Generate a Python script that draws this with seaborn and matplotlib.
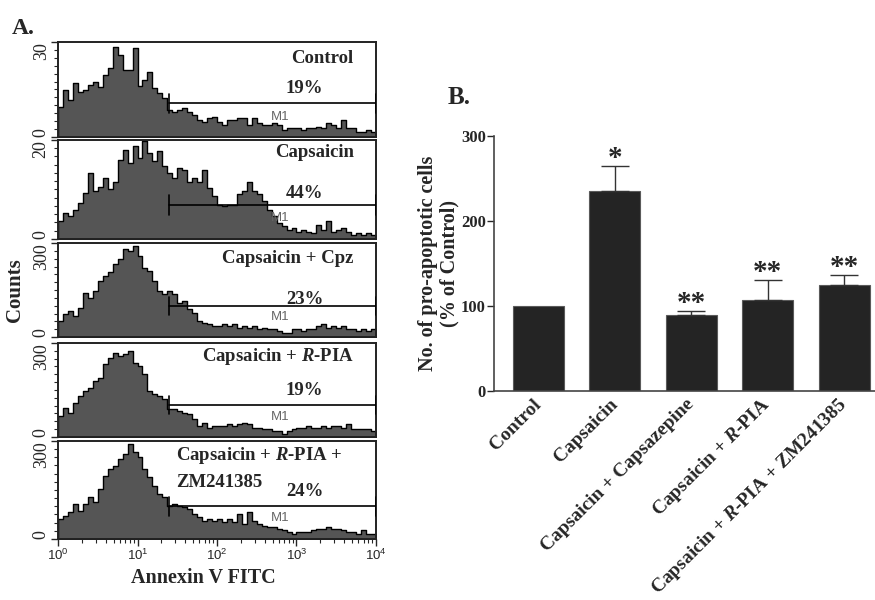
import numpy as np
import matplotlib
matplotlib.use('Agg')
from matplotlib import pyplot as plt, ticker
import seaborn as sns
import pandas as pd

# Panel A: annexin V FITC histograms, counts per 1/16-decade channel (10^0 .. 10^4)
control_counts = [9.6, 14.8, 11.7, 17, 14.3, 14.8, 16.4, 17.5, 15.9, 19.6, 21.7, 28.5, 26, 21, 21, 28,
                  16, 18, 20.6, 15.4, 13.8, 12.2, 8.5, 8, 8.5, 9, 8, 7, 5.4, 4.8, 5.9, 6.4,
                  4.8, 3.8, 5.4, 5.4, 5.9, 5.9, 3.8, 5.9, 4.3, 3.8, 3.8, 4.3, 3.8, 2.2, 2.7, 2.7,
                  2.7, 2.2, 2.7, 2.7, 3.3, 2.7, 4.3, 3.8, 2.7, 5.4, 2.7, 2.7, 1.7, 1.7, 2.2, 1.7]
capsaicin_counts = [3.6, 5.3, 4.6, 5.9, 7.3, 9.3, 13.3, 9.6, 10.6, 12.3, 10, 11.6, 16, 18, 15.3, 18.8,
                    16.4, 19.7, 17.4, 15.7, 17.7, 14.7, 13.3, 12.3, 14.3, 14, 11.6, 12.3, 11.6, 14, 10.3, 8.6,
                    6.9, 6.6, 6.9, 6.9, 9, 9.6, 11.6, 9.6, 9, 7.6, 5.9, 4.6, 3.2, 2.6, 1.9, 2.2,
                    1.5, 1.9, 1.5, 1.2, 2.9, 1.9, 3.6, 1.5, 1.9, 2.2, 1.5, 0.9, 1.2, 0.9, 1.2, 0.9]
cpz_counts = [51, 72, 83, 67, 94, 141, 126, 147, 179, 195, 206, 232, 248, 280, 275, 290,
              259, 221, 211, 179, 147, 136, 147, 136, 110, 115, 89, 78, 51, 46, 40, 35,
              35, 40, 35, 40, 30, 35, 30, 35, 24, 30, 24, 24, 19, 14, 14, 24,
              24, 19, 24, 24, 35, 40, 30, 35, 30, 35, 24, 24, 19, 24, 19, 24]
rpia_counts = [67, 94, 78, 110, 131, 147, 157, 179, 189, 232, 253, 269, 259, 264, 275, 237,
               227, 200, 147, 136, 131, 120, 89, 89, 83, 78, 72, 56, 35, 46, 30, 35,
               35, 35, 40, 35, 40, 46, 40, 30, 30, 24, 24, 19, 19, 9, 19, 24,
               30, 30, 35, 30, 30, 35, 30, 35, 35, 30, 40, 24, 24, 24, 24, 19]
zm_counts = [61, 71, 82, 107, 87, 107, 128, 112, 153, 194, 214, 224, 245, 260, 291, 265,
             250, 214, 189, 163, 138, 128, 102, 107, 102, 97, 92, 77, 66, 56, 61, 56,
             61, 51, 61, 51, 77, 46, 82, 56, 46, 41, 36, 36, 31, 26, 20, 15,
             20, 20, 20, 26, 31, 31, 36, 31, 31, 26, 20, 20, 15, 26, 15, 15]

hist_names = ['Control', 'Capsaicin', 'Capsaicin + Cpz', 'Capsaicin + $\\mathit{R}$-PIA',
              'Capsaicin + $\\mathit{R}$-PIA +\nZM241385']
hist_pcts = ['19%', '44%', '23%', '19%', '24%']
hist_ymax = [30, 20, 300, 300, 300]
m1_levels = [10.6, 6.8, 99, 102, 100]
m1_start = 25

# Panel B: pro-apoptotic cells, % of control
conditions = ['Control', 'Capsaicin', 'Capsaicin + Capsazepine', 'Capsaicin + $\\mathit{R}$-PIA',
              'Capsaicin + $\\mathit{R}$-PIA + ZM241385']
pct_control = [100, 235, 90, 107, 125]
sem = [0, 30, 4, 24, 12]
stars = ['', '*', '**', '**', '**']

sns.set_style('ticks')
plt.rcParams['font.family'] = ['Liberation Serif', 'DejaVu Serif']
plt.rcParams['mathtext.fontset'] = 'custom'
plt.rcParams['mathtext.it'] = 'Liberation Serif:italic:bold'
plt.rcParams['mathtext.rm'] = 'Liberation Serif:bold'
plt.rcParams['mathtext.bf'] = 'Liberation Serif:bold'
plt.rcParams['mathtext.sf'] = 'Liberation Sans'

fig = plt.figure(figsize=(8.75, 6), dpi=100)

boxes = [(0.7717, 0.1583), (0.6017, 0.165), (0.4383, 0.1567), (0.2717, 0.1567), (0.1017, 0.1633)]
title_pos = [(0.93, 0.83, 'right'), (0.93, 0.87, 'right'), (0.93, 0.83, 'right'),
             (0.93, 0.86, 'right'), (0.37, 0.85, 'left')]
pct_y = [0.51, 0.46, 0.40, 0.49, 0.48]
all_counts = [control_counts, capsaicin_counts, cpz_counts, rpia_counts, zm_counts]
chan = 10 ** ((np.arange(64) + 0.5) / 16)

for i, counts in enumerate(all_counts):
    b, h = boxes[i]
    ymax = hist_ymax[i]
    ax = fig.add_axes([0.0663, b, 0.3634, h])
    sns.histplot(x=chan, weights=counts, bins=64, binrange=(0, 4), log_scale=True,
                 element='step', fill=True, color='#555555', alpha=1,
                 edgecolor='black', linewidth=1, ax=ax)
    ax.set_xlim(1, 1e4)
    ax.set_ylim(0, ymax)
    ax.set_xlabel('')
    ax.set_ylabel('')
    for s in ax.spines.values():
        s.set_visible(True)
        s.set_linewidth(1.4)
        s.set_color('#222222')
    ax.set_yticks([0, ymax])
    ax.set_yticklabels(['0', str(ymax)], rotation=90, fontsize=13, fontweight='normal')
    for lab, va in zip(ax.get_yticklabels(), ['bottom', 'top']):
        lab.set_verticalalignment(va)
    ax.yaxis.set_minor_locator(ticker.MultipleLocator(ymax / 12))
    ax.tick_params(axis='y', which='major', length=5, width=1, direction='out', pad=1)
    ax.tick_params(axis='y', which='minor', length=3, width=0.8, direction='out')
    if i == 4:
        ax.xaxis.set_major_locator(ticker.FixedLocator([1, 10, 100, 1000, 10000]))
        ax.xaxis.set_major_formatter(ticker.FixedFormatter(
            ['$\\mathsf{10^{%d}}$' % k for k in range(5)]))
        ax.xaxis.set_minor_locator(ticker.LogLocator(base=10, subs=np.arange(2, 10)))
        ax.xaxis.set_minor_formatter(ticker.NullFormatter())
        ax.tick_params(axis='x', which='major', length=5, width=1, direction='out',
                       labelsize=9.5, pad=1)
        ax.tick_params(axis='x', which='minor', length=3, width=0.8, direction='out')
    else:
        ax.tick_params(axis='x', which='both', bottom=False, labelbottom=False)

    lvl = m1_levels[i]
    ax.plot([m1_start, 1e4], [lvl, lvl], color='black', lw=1.2, zorder=5)
    ax.plot([m1_start, m1_start], [lvl - 0.1 * ymax, lvl + 0.1 * ymax], color='black', lw=1.2, zorder=5)
    ax.plot([1e4, 1e4], [lvl - 0.1 * ymax, lvl + 0.1 * ymax], color='black', lw=1.2, zorder=5)
    ax.text(10 ** 2.79, 0.21, 'M1', transform=ax.get_xaxis_transform(), ha='center', va='center',
            family='Liberation Sans', fontsize=9.5, color='#666666', zorder=6)
    ax.text(0.775, pct_y[i], hist_pcts[i], transform=ax.transAxes, ha='center', va='center',
            fontsize=13.5, fontweight='bold', zorder=6)
    tx, ty, tha = title_pos[i]
    if i == 4:
        first, second = hist_names[i].split('\n')
        ax.text(tx, ty, first, transform=ax.transAxes, ha=tha, va='center',
                fontsize=13.5, fontweight='bold', zorder=6)
        ax.text(tx, 0.58, second, transform=ax.transAxes, ha=tha, va='center',
                fontsize=13.5, fontweight='bold', zorder=6)
    else:
        ax.text(tx, ty, hist_names[i], transform=ax.transAxes, ha=tha, va='center',
                fontsize=13.5, fontweight='bold', zorder=6)

fig.text(0.0137, 0.953, 'A.', fontsize=17, fontweight='bold', ha='left', va='center')
fig.text(0.017, 0.517, 'Counts', fontsize=15, fontweight='bold', rotation=90, ha='center', va='center')
fig.text(0.232, 0.036, 'Annexin V FITC', fontsize=14.5, fontweight='bold', ha='center', va='center')
fig.text(0.512, 0.838, 'B.', fontsize=18, fontweight='bold', ha='left', va='center')

# Panel B
axb = fig.add_axes([0.5646, 0.3483, 0.4354, 0.425])
dfb = pd.DataFrame({'condition': conditions, 'value': pct_control})
sns.barplot(data=dfb, x='condition', y='value', color='#242424', saturation=1, width=0.667,
            edgecolor='#5a5a5a', linewidth=0.8, ax=axb)
for k in range(len(conditions)):
    if sem[k] > 0:
        axb.errorbar(k, pct_control[k], yerr=[[0], [sem[k]]], fmt='none', ecolor='#333333',
                     elinewidth=1, capsize=10, capthick=1)
    if stars[k]:
        axb.text(k, pct_control[k] + sem[k] - 7, stars[k], ha='center', va='bottom',
                 fontsize=21, fontweight='bold')
axb.set_xlim(-0.58, 4.4)
axb.set_ylim(0, 300)
sns.despine(ax=axb)
for s in ['left', 'bottom']:
    axb.spines[s].set_color('#444444')
    axb.spines[s].set_linewidth(1.2)
axb.set_yticks([0, 100, 200, 300])
axb.set_yticklabels(['0', '100', '200', '300'], fontsize=12, fontweight='bold')
axb.tick_params(axis='y', length=5, width=1, pad=1)
axb.set_xticks(range(len(conditions)))
axb.set_xticklabels(conditions, rotation=45, ha='right', va='center', rotation_mode='anchor',
                    fontsize=14, fontweight='bold')
axb.tick_params(axis='x', length=0, pad=8)
axb.set_xlabel('')
axb.set_ylabel('No. of pro-apoptotic cells\n(% of Control)', fontsize=14.5, fontweight='bold',
               labelpad=1, linespacing=1.12)

fig.savefig('out.png', dpi=100)
